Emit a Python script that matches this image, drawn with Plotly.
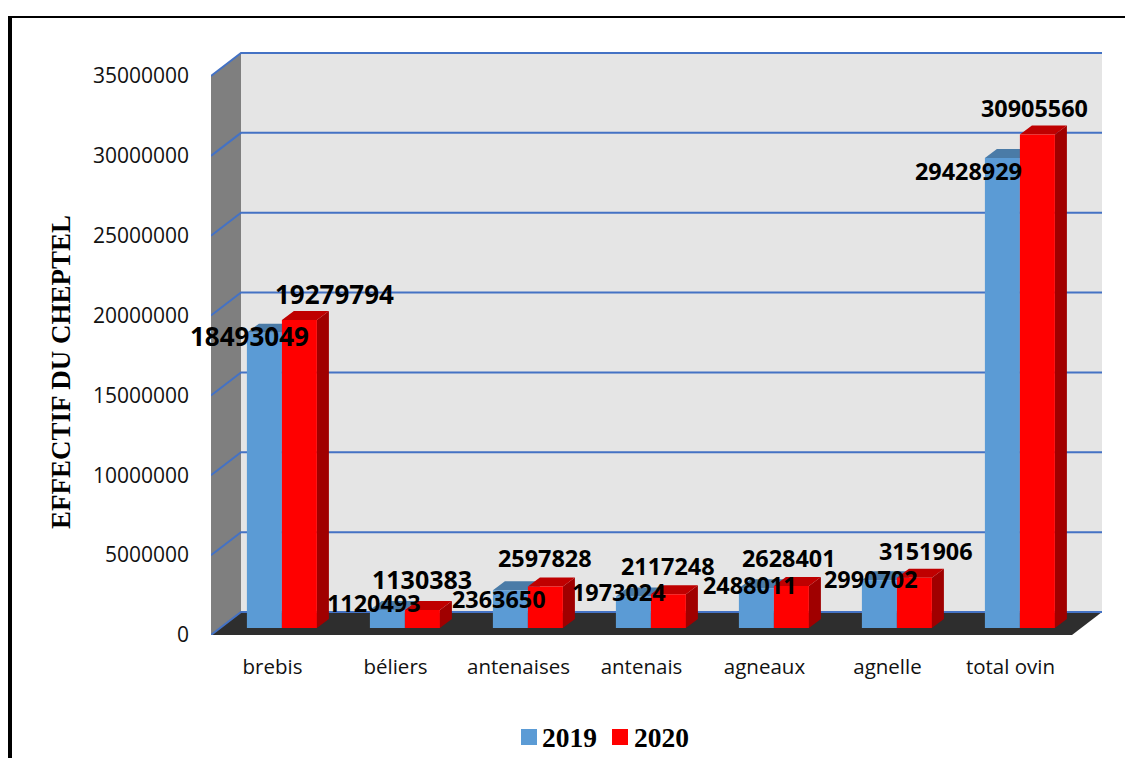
import plotly.graph_objects as go

# ---- data ----
categories = ["brebis", "béliers", "antenaises", "antenais", "agneaux", "agnelle", "total ovin"]
values_2019 = [18493049, 1120493, 2363650, 1973024, 2488011, 2990702, 29428929]
values_2020 = [19279794, 1130383, 2597828, 2117248, 2628401, 3151906, 30905560]
y_ticks = [0, 5000000, 10000000, 15000000, 20000000, 25000000, 30000000, 35000000]
legend_names = ["2019", "2020"]

# ---- layout constants (pixels of the 1133x758 page; the page body adds an 8px margin) ----
OFF = 8
W, H = 1133 - OFF, 758 - OFF
PL, PR, PT, PB = 211 - OFF, 1105 - OFF, 50 - OFF, 635 - OFF
CAT_PX = 123.0
VAL_PER_PX = 35000000 / 559.0
def dx(px): return px / CAT_PX
def dy(px): return px * VAL_PER_PX

X0, X1 = -0.5, -0.5 + (PR - PL) / CAT_PX
Y0, Y1 = 0, (PB - PT) * VAL_PER_PX
WALL_X, WALL_Y = dx(30), dy(23)           # depth of the chart box
BAR_X, BAR_Y = dx(9.4), dy(7)             # where the bars' front face sits
SIDE_X, SIDE_Y = dx(12), dy(9)            # depth of each bar
BAR_W = dx(35)

def polys(items):
    xs, ys = [], []
    for poly in items:
        for a, b in poly + [poly[0]]:
            xs.append(a); ys.append(b)
        xs.append(None); ys.append(None)
    return xs, ys

def face(items, color, z):
    xs, ys = polys(items)
    return go.Scatter(x=xs, y=ys, mode="lines", fill="toself", fillcolor=color,
                      line=dict(width=0, color=color), hoverinfo="skip",
                      showlegend=False, zorder=z)

fig = go.Figure()

# chart box
xl, xr = X0, X0 + 7
ytop = 35000000 + WALL_Y
fig.add_trace(face([[(xl + WALL_X, WALL_Y), (xr + WALL_X, WALL_Y), (xr + WALL_X, ytop), (xl + WALL_X, ytop)]], "#E5E5E5", 0))
fig.add_trace(face([[(xl, 0), (xl + WALL_X, WALL_Y), (xl + WALL_X, ytop), (xl, 35000000)]], "#7F7F7F", 0))
fig.add_trace(face([[(xl, 0), (xr, 0), (xr + WALL_X, WALL_Y), (xl + WALL_X, WALL_Y)]], "#2E2E2E", 0))

# gridlines running along left wall then back wall
gx, gy = [], []
for t in y_ticks:
    gx += [xl, xl + WALL_X, xr + WALL_X, None]
    gy += [t, t + WALL_Y, t + WALL_Y, None]
fig.add_trace(go.Scatter(x=gx, y=gy, mode="lines", line=dict(color="#4472C4", width=2),
                         hoverinfo="skip", showlegend=False, zorder=1))

series = [("2019", values_2019, -1, "#5B9BD5", "#4A7BA7", "#3F6C96", 2),
          ("2020", values_2020, 0, "#FF0000", "#BF0000", "#A00000", 4)]
for name, vals, side, col, top_col, side_col, z in series:
    lefts = [i + BAR_X + side * BAR_W for i in range(len(vals))]
    tops, sides = [], []
    for l, v in zip(lefts, vals):
        r = l + BAR_W
        t = v + BAR_Y
        tops.append([(l, t), (r, t), (r + SIDE_X, t + SIDE_Y), (l + SIDE_X, t + SIDE_Y)])
        sides.append([(r, BAR_Y), (r + SIDE_X, BAR_Y + SIDE_Y), (r + SIDE_X, t + SIDE_Y), (r, t)])
    fig.add_trace(face(sides, side_col, z))
    fig.add_trace(face(tops, top_col, z))
    fig.add_trace(go.Bar(x=[l + BAR_W / 2 for l in lefts], y=vals, base=BAR_Y, width=BAR_W,
                         name=name, marker=dict(color=col, line=dict(width=0)),
                         showlegend=False, hoverinfo="skip", zorder=z + 1))

# value labels: anchored on each bar's front top, nudged and sized as in the original
shift_2019 = [(-14.5, -3.4), (-13.5, 7.1), (-11.5, -8.7), (-14.5, 4.5), (-6.5, 3.3), (-8.5, 1.2), (-33.5, -13)]
shift_2020 = [(35.5, 26), (-0.5, 31), (-0.5, 28.5), (-0.5, 28), (-2.5, 28), (11.5, 26.7), (-2.5, 26.4)]
size_2019 = [26, 23.4, 23.4, 23.4, 23.4, 23.4, 23.4]
size_2020 = [26, 25, 23.4, 23.4, 23.4, 23.4, 23.4]
for vals, side, shifts, sizes in [(values_2019, -1, shift_2019, size_2019), (values_2020, 0, shift_2020, size_2020)]:
    for i, (v, (sx, sy), sz) in enumerate(zip(vals, shifts, sizes)):
        fig.add_annotation(x=i + BAR_X + side * BAR_W + BAR_W / 2, y=v + BAR_Y, xref="x", yref="y",
                           text=str(v), showarrow=False, xanchor="center", yanchor="middle",
                           xshift=sx, yshift=sy,
                           font=dict(family="Open Sans", size=sz, color="black", weight=700))

def px_x(p): return (p - OFF - PL) / (PR - PL)
def px_y(p): return (PB - (p - OFF)) / (PB - PT)

fig.add_annotation(x=px_x(61), y=px_y(372), xref="paper", yref="paper", text="EFFECTIF DU CHEPTEL",
                   textangle=-90, showarrow=False, xanchor="center", yanchor="middle",
                   font=dict(family="Liberation Serif", size=27, color="black", weight=700))

# black frame of the original picture (left and top only)
frame = dict(type="rect", xref="paper", yref="paper", fillcolor="black", line=dict(width=0), layer="above")
fig.add_shape(x0=px_x(8), x1=px_x(12), y0=px_y(16), y1=px_y(758), **frame)
fig.add_shape(x0=px_x(8), x1=px_x(1133), y0=px_y(16), y1=px_y(18), **frame)

# legend, laid out as in the original: square, then bold serif year
legend_items = [(521, 542, "#5B9BD5"), (612, 634, "#FF0000")]
for name, (sq, tx, col) in zip(legend_names, legend_items):
    fig.add_shape(type="rect", xref="paper", yref="paper", fillcolor=col, line=dict(width=0),
                  x0=px_x(sq), x1=px_x(sq + 16), y0=px_y(729), y1=px_y(745))
    fig.add_annotation(x=px_x(tx), y=px_y(737), xref="paper", yref="paper", text=name, showarrow=False,
                       xanchor="left", yanchor="middle", xshift=-2,
                       font=dict(family="Liberation Serif", size=27.5, color="black", weight=700))

fig.update_layout(
    width=W, height=H, autosize=False, barmode="overlay", showlegend=False,
    paper_bgcolor="white", plot_bgcolor="white",
    margin=dict(l=PL, r=W - PR, t=PT, b=H - PB, pad=0, autoexpand=False),
    xaxis=dict(range=[X0, X1], tickvals=list(range(len(categories))), ticktext=categories,
               showgrid=False, zeroline=False, showline=False, ticks="", ticklabelstandoff=17,
               tickfont=dict(family="Open Sans", size=20.5, color="#111111")),
    yaxis=dict(range=[Y0, Y1], tickvals=y_ticks, tickformat="d", showgrid=False, zeroline=False,
               showline=False, ticks="", ticklabelstandoff=21,
               tickfont=dict(family="Open Sans", size=21, color="#111111")),
)

fig.write_html("out.html")
